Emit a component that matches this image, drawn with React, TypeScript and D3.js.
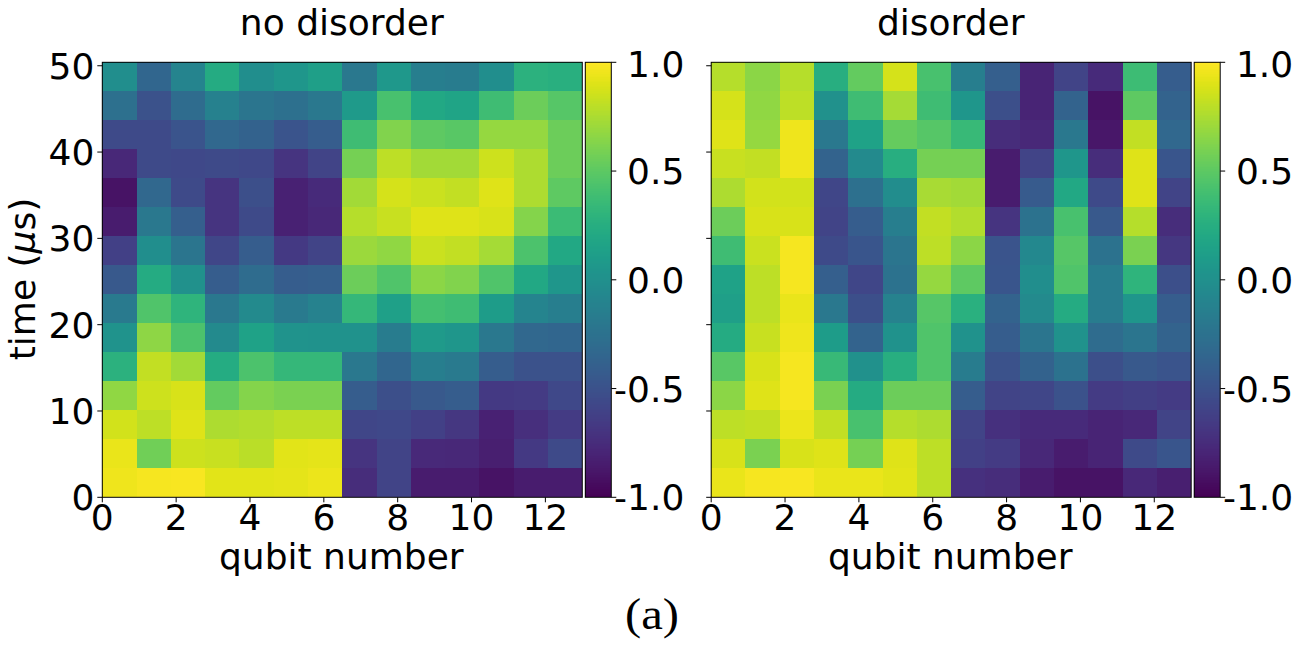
import React from "react";
import * as d3 from "d3";

const xTicks = [0, 2, 4, 6, 8, 10, 12];
const yTicks = [0, 10, 20, 30, 40, 50];
const cbarTicks = [1, 0.5, 0, -0.5, -1];
const cbarLabels = ["1.0", "0.5", "0.0", "-0.5", "-1.0"];

// rows listed from the top of the picture (latest time) to the bottom (time 0)
const noDisorder: number[][] = [
  [-0.02, -0.35, -0.1, 0.22, -0.02, 0.05, 0.12, -0.2, 0.07, -0.15, -0.17, -0.02, 0.28, 0.26],
  [-0.27, -0.5, -0.3, -0.13, -0.22, -0.27, -0.2, 0.08, 0.42, 0.2, 0.17, 0.38, 0.55, 0.47],
  [-0.55, -0.55, -0.48, -0.33, -0.38, -0.48, -0.42, 0.38, 0.62, 0.5, 0.48, 0.68, 0.68, 0.55],
  [-0.78, -0.55, -0.57, -0.55, -0.57, -0.7, -0.6, 0.58, 0.8, 0.72, 0.72, 0.85, 0.75, 0.55],
  [-0.9, -0.33, -0.55, -0.7, -0.52, -0.82, -0.76, 0.72, 0.87, 0.84, 0.82, 0.9, 0.75, 0.5],
  [-0.85, -0.2, -0.4, -0.7, -0.55, -0.82, -0.78, 0.78, 0.83, 0.9, 0.9, 0.88, 0.63, 0.36],
  [-0.62, -0.02, -0.22, -0.58, -0.42, -0.67, -0.6, 0.7, 0.67, 0.84, 0.82, 0.73, 0.43, 0.2],
  [-0.45, 0.22, 0.0, -0.42, -0.3, -0.42, -0.4, 0.55, 0.45, 0.65, 0.62, 0.45, 0.2, 0.05],
  [-0.18, 0.45, 0.3, -0.2, -0.05, -0.18, -0.12, 0.33, 0.13, 0.4, 0.38, 0.1, -0.1, -0.15],
  [0.03, 0.66, 0.43, -0.05, 0.15, 0.03, 0.02, 0.02, -0.17, 0.08, 0.05, -0.2, -0.33, -0.35],
  [0.28, 0.82, 0.72, 0.23, 0.43, 0.33, 0.33, -0.2, -0.35, -0.15, -0.18, -0.42, -0.5, -0.5],
  [0.67, 0.85, 0.88, 0.52, 0.63, 0.6, 0.6, -0.42, -0.52, -0.45, -0.42, -0.67, -0.65, -0.57],
  [0.86, 0.8, 0.9, 0.75, 0.77, 0.8, 0.8, -0.58, -0.57, -0.62, -0.68, -0.82, -0.73, -0.65],
  [0.93, 0.57, 0.85, 0.83, 0.79, 0.91, 0.92, -0.7, -0.6, -0.77, -0.78, -0.83, -0.67, -0.55],
  [0.95, 0.97, 0.98, 0.91, 0.91, 0.92, 0.94, -0.75, -0.6, -0.85, -0.85, -0.9, -0.85, -0.85],
];

const withDisorder: number[][] = [
  [0.78, 0.65, 0.78, 0.25, 0.52, 0.87, 0.42, -0.15, -0.4, -0.8, -0.6, -0.76, 0.37, -0.42],
  [0.87, 0.67, 0.8, 0.0, 0.38, 0.73, 0.38, 0.05, -0.52, -0.8, -0.37, -0.9, 0.5, -0.37],
  [0.9, 0.68, 0.95, -0.2, 0.15, 0.53, 0.47, 0.35, -0.75, -0.78, -0.2, -0.88, 0.82, -0.33],
  [0.83, 0.82, 0.95, -0.37, -0.05, 0.25, 0.58, 0.58, -0.85, -0.6, 0.05, -0.75, 0.9, -0.47],
  [0.75, 0.86, 0.86, -0.58, -0.27, -0.03, 0.74, 0.72, -0.85, -0.43, 0.2, -0.55, 0.9, -0.6],
  [0.55, 0.88, 0.88, -0.6, -0.42, -0.15, 0.82, 0.77, -0.7, -0.25, 0.42, -0.45, 0.78, -0.75],
  [0.38, 0.84, 0.97, -0.55, -0.47, -0.22, 0.8, 0.65, -0.48, -0.07, 0.47, -0.25, 0.6, -0.68],
  [0.15, 0.8, 0.97, -0.4, -0.58, -0.25, 0.68, 0.5, -0.47, -0.02, 0.45, -0.17, 0.3, -0.52],
  [0.12, 0.8, 0.93, -0.2, -0.52, -0.12, 0.47, 0.27, -0.37, -0.05, 0.22, -0.17, 0.05, -0.42],
  [0.22, 0.83, 0.95, 0.1, -0.37, 0.02, 0.45, 0.02, -0.42, -0.22, 0.02, -0.3, -0.22, -0.37],
  [0.48, 0.88, 0.97, 0.35, 0.0, 0.25, 0.45, -0.17, -0.5, -0.38, -0.25, -0.52, -0.45, -0.48],
  [0.65, 0.9, 0.97, 0.6, 0.22, 0.55, 0.55, -0.42, -0.6, -0.58, -0.5, -0.65, -0.63, -0.65],
  [0.8, 0.82, 0.94, 0.82, 0.42, 0.78, 0.75, -0.6, -0.72, -0.76, -0.76, -0.8, -0.78, -0.6],
  [0.88, 0.6, 0.88, 0.9, 0.58, 0.9, 0.8, -0.62, -0.65, -0.78, -0.85, -0.8, -0.55, -0.47],
  [0.93, 0.97, 0.98, 0.93, 0.93, 0.91, 0.8, -0.72, -0.75, -0.85, -0.9, -0.9, -0.78, -0.83],
];

const SANS = "'DejaVu Sans', sans-serif";
const SERIF = "'Liberation Serif', serif";
const xMax = 13;
const yMax = 50.4;
const top = 62.3;
const bottom = 497.3;
const color = d3.scaleSequential(d3.interpolateViridis).domain([-1, 1]);
const cbarStep = 2 / 435;
const cbarSteps = d3.range(-1, 1, cbarStep);

function Panel({ left, data, title, showY }: { left: number; data: number[][]; title: string; showY: boolean }) {
  const right = left + 480;
  const x = d3.scaleLinear().domain([0, xMax]).range([left, right]);
  const y = d3.scaleLinear().domain([0, yMax]).range([bottom, top]);
  const cb = d3.scaleLinear().domain([-1, 1]).range([bottom, top]);
  const cbL = right + 3;
  const cbR = cbL + 26;
  const nCols = data[0].length;
  const nRows = data.length;
  const dx = xMax / nCols;
  const dy = yMax / nRows;
  const cx = (left + right) / 2;
  return (
    <g>
      {data.map((row, r) =>
        row.map((v, c) => (
          <rect
            key={`${r}-${c}`}
            x={x(c * dx)}
            y={y(yMax - r * dy)}
            width={x(dx) - x(0)}
            height={y(0) - y(dy)}
            fill={color(v)}
            shapeRendering="crispEdges"
          />
        ))
      )}
      <rect x={left} y={top} width={right - left} height={bottom - top} fill="none" stroke="#000" strokeWidth={1} />
      {xTicks.map((t) => (
        <g key={t}>
          <line x1={x(t)} x2={x(t)} y1={bottom} y2={bottom + 5} stroke="#000" strokeWidth={1} />
          <text x={x(t)} y={530} textAnchor="middle" fontFamily={SANS} fontSize={36}>{t}</text>
        </g>
      ))}
      {yTicks.map((t) => (
        <g key={t}>
          <line x1={left} x2={left - 5} y1={y(t)} y2={y(t)} stroke="#000" strokeWidth={1} />
          {showY && (
            <text x={left - 8} y={y(t) + 13} textAnchor="end" fontFamily={SANS} fontSize={36}>{t}</text>
          )}
        </g>
      ))}
      <text x={cx - 0.5} y={35} textAnchor="middle" fontFamily={SANS} fontSize={36}>{title}</text>
      <text x={cx - 1} y={569} textAnchor="middle" fontFamily={SANS} fontSize={36}>qubit number</text>
      {cbarSteps.map((s) => (
        <rect
          key={s}
          x={cbL}
          y={cb(s + cbarStep)}
          width={cbR - cbL}
          height={cb(s) - cb(s + cbarStep)}
          fill={color(s + cbarStep / 2)}
          shapeRendering="crispEdges"
        />
      ))}
      <rect x={cbL} y={top} width={cbR - cbL} height={bottom - top} fill="none" stroke="#000" strokeWidth={1} />
      {cbarTicks.map((t, i) => (
        <g key={t}>
          <line x1={cbR} x2={cbR + 5} y1={cb(t)} y2={cb(t)} stroke="#000" strokeWidth={1} />
          <text x={cbR + 73} y={(t === 1 ? 64 : cb(t)) + 13} textAnchor="end" fontFamily={SANS} fontSize={36}>{cbarLabels[i]}</text>
        </g>
      ))}
    </g>
  );
}

export default function App() {
  return (
    <svg
      width={1302}
      height={646}
      viewBox="0 0 1302 646"
      style={{ position: "absolute", left: 0, top: 0, background: "#fff" }}
    >
      <Panel left={102.3} data={noDisorder} title="no disorder" showY />
      <Panel left={711.2} data={withDisorder} title="disorder" showY={false} />
      <text
        transform="translate(35,279) rotate(-90)"
        textAnchor="middle"
        fontFamily={SANS}
        fontSize={36}
      >
        time (<tspan fontStyle="italic">μ</tspan>s)
      </text>
      <text
        x={625}
        y={629}
        fontFamily={SERIF}
        fontSize={44}
        textLength={54}
        lengthAdjust="spacingAndGlyphs"
      >
        (a)
      </text>
    </svg>
  );
}
